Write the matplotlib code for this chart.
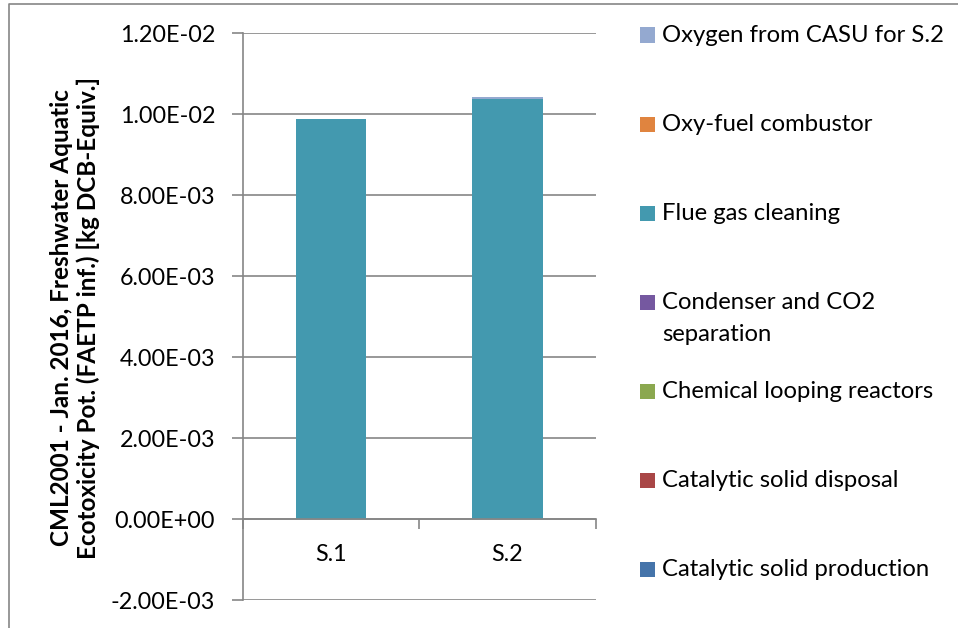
import matplotlib
matplotlib.use("Agg")
import matplotlib.pyplot as plt
from matplotlib.patches import Rectangle
from matplotlib.lines import Line2D
from matplotlib.ticker import FixedLocator

plt.rcParams["font.family"] = ["Lato", "DejaVu Sans"]

# ---- data (stacking order bottom -> top) ----
scenarios = ["S.1", "S.2"]
components = [
    "Catalytic solid production",
    "Catalytic solid disposal",
    "Chemical looping reactors",
    "Condenser and CO2\nseparation",
    "Flue gas cleaning",
    "Oxy-fuel combustor",
    "Oxygen from CASU for S.2",
]
cat_production = [0.0, 0.0]
cat_disposal = [0.0, 0.0]
chem_looping = [0.0, 0.0]
condenser = [0.0, 0.0]
flue_gas = [9.87e-3, 1.037e-2]
oxy_fuel = [0.0, 0.0]
oxygen_casu = [0.0, 4.5e-5]
series = [cat_production, cat_disposal, chem_looping, condenser,
          flue_gas, oxy_fuel, oxygen_casu]
colors = ["#4574AA", "#A94646", "#8BA84F", "#7558A0",
          "#4399AF", "#E0843F", "#94A9D0"]
yticks = [-2e-3, 0.0, 2e-3, 4e-3, 6e-3, 8e-3, 1e-2, 1.2e-2]
ylabel = ("CML2001 - Jan. 2016, Freshwater Aquatic\n"
          "Ecotoxicity Pot. (FAETP inf.) [kg DCB-Equiv.]")

GRID = "#868686"
FS_TICK = 16.8
FS_LEG = 17.2
FS_LAB = 17.5
W, H = 958, 628

fig = plt.figure(figsize=(W / 100, H / 100), dpi=100)
ax = fig.add_axes([243 / W, 1 - 600.4 / H, (595.5 - 243) / W, (600.4 - 33) / H])

x = list(range(len(scenarios)))
bottom = [0.0] * len(scenarios)
for vals, col in zip(series, colors):
    ax.bar(x, vals, 0.40, bottom=bottom, color=col, linewidth=0, zorder=3)
    bottom = [b + v for b, v in zip(bottom, vals)]

ax.set_xlim(-0.5, len(scenarios) - 0.5)
ax.set_ylim(yticks[0], yticks[-1])
ax.set_yticks(yticks)
ax.set_yticklabels([f"{t:.2E}" for t in yticks], fontsize=FS_TICK)
ax.yaxis.grid(True, color=GRID, lw=1.2, zorder=0)
ax.tick_params(axis="y", length=8, width=1.2, color=GRID, pad=12)

# category axis sits on y = 0
for s in ("top", "right"):
    ax.spines[s].set_visible(False)
ax.spines["left"].set_color(GRID)
ax.spines["left"].set_linewidth(1.2)
ax.spines["bottom"].set_position(("data", 0))
ax.spines["bottom"].set_color(GRID)
ax.spines["bottom"].set_linewidth(1.2)
ax.spines["bottom"].set_zorder(4)
ax.set_xticks(x)
ax.set_xticklabels(scenarios, fontsize=FS_TICK)
ax.tick_params(axis="x", which="major", length=0, pad=18)
ax.xaxis.set_minor_locator(FixedLocator([i - 0.5 for i in range(len(scenarios) + 1)]))
ax.tick_params(axis="x", which="minor", length=7, width=1.2, color=GRID, direction="out")

fig.text(75 / W, 1 - 318 / H, ylabel, rotation=90, ha="center", va="center",
         fontsize=FS_LAB, fontweight="bold", linespacing=1.15)

# legend, listed top -> bottom like the spreadsheet
y0, step, line_h = 35, 89.1, 32
for i, (lab, col) in enumerate(zip(components[::-1], colors[::-1])):
    yc = y0 + step * i
    fig.patches.append(Rectangle((640 / W, 1 - (yc + 7.5) / H), 15 / W, 15 / H,
                                 transform=fig.transFigure, facecolor=col, lw=0))
    for k, part in enumerate(lab.split("\n")):
        fig.text(662 / W, 1 - (yc + k * line_h) / H, part, ha="left",
                 va="center", fontsize=FS_LEG)

# outer chart frame
fig.lines.append(Line2D([8.5 / W, 8.5 / W, 1], [0, 1 - 4 / H, 1 - 4 / H],
                        transform=fig.transFigure, color=GRID, lw=1.2))

fig.savefig("out.png", dpi=100)
